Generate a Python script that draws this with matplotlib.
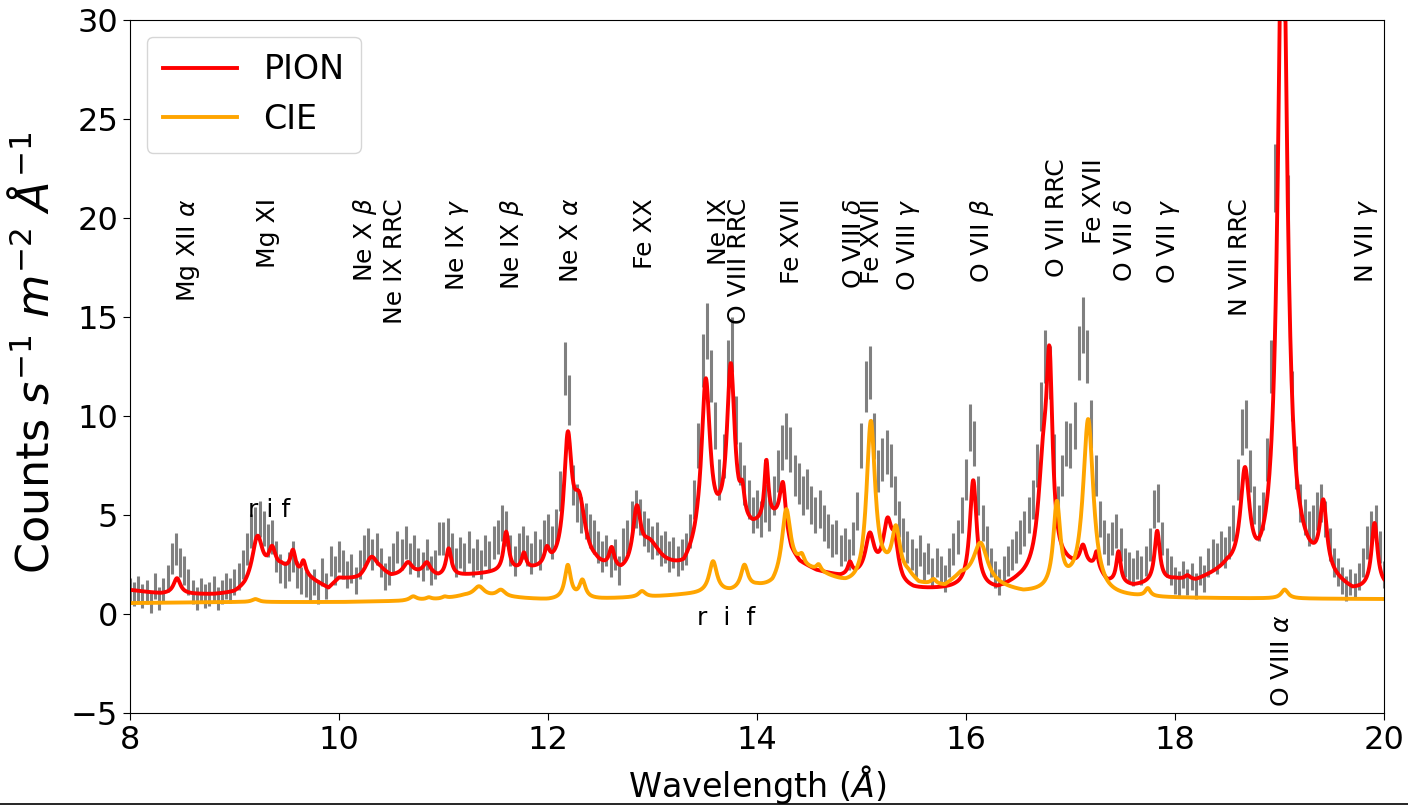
import numpy as np
import matplotlib.pyplot as plt
from matplotlib.lines import Line2D

# observed spectrum, 0.04 A bins from 8 to 20 A (counts s^-1 m^-2 A^-1)
obs_8 = [1.2, 1.0, 1.3, 0.9, 1.1, 0.6, 1.4, 0.8, 1.2, 1.8, 2.8, 3.3, 2.6, 2.2, 1.6, 1.1, 0.8, 1.2, 0.9, 1.0, 1.3, 0.8, 1.1, 1.4, 1.2]
obs_9 = [1.6, 1.9, 2.5, 3.3, 4.2, 4.5, 4.8, 4.3, 3.7, 3.9, 2.9, 2.3, 2.0, 2.4, 2.9, 2.0, 1.7, 1.5, 1.3, 1.6, 1.1, 2.1, 1.4, 2.7, 2.2]
obs_10 = [2.9, 2.5, 2.0, 2.3, 1.7, 2.5, 3.2, 3.5, 3.0, 3.3, 2.6, 1.9, 2.2, 2.8, 3.4, 3.0, 3.6, 2.8, 3.2, 2.6, 2.4, 3.0, 2.2, 2.5, 3.8]
obs_11 = [3.8, 4.0, 3.3, 2.6, 3.1, 2.8, 3.4, 2.6, 3.0, 2.5, 3.2, 2.9, 3.6, 3.9, 4.6, 4.3, 3.2, 2.7, 3.3, 3.6, 3.2, 2.8, 3.4, 3.0, 3.9]
obs_12 = [4.2, 3.6, 4.4, 6.2, 12.4, 10.8, 6.5, 5.6, 5.0, 4.7, 4.2, 3.9, 3.4, 2.9, 3.2, 2.6, 3.0, 2.2, 3.5, 3.9, 4.8, 5.3, 4.9, 4.3, 4.0]
obs_13 = [3.6, 3.8, 3.2, 3.4, 2.9, 3.1, 2.7, 3.0, 3.3, 4.2, 5.8, 8.5, 12.8, 14.3, 12.0, 9.5, 6.8, 8.0, 12.5, 13.6, 9.8, 7.6, 6.5, 5.8, 5.0]
obs_14 = [5.3, 4.8, 5.6, 5.1, 6.0, 7.2, 8.4, 9.0, 8.3, 7.0, 6.6, 6.0, 6.3, 5.5, 5.0, 5.3, 4.6, 4.2, 3.7, 3.9, 3.2, 3.5, 3.0, 3.8, 5.2]
obs_15 = [8.5, 11.5, 12.2, 9.0, 7.2, 7.8, 8.2, 7.5, 6.0, 4.8, 4.0, 3.4, 3.0, 2.6, 3.2, 2.4, 2.8, 2.1, 2.6, 2.2, 1.8, 2.6, 3.3, 3.9, 5.0]
obs_16 = [6.8, 9.4, 8.6, 6.0, 4.6, 3.6, 2.6, 2.0, 1.6, 2.2, 2.7, 3.0, 3.4, 3.9, 4.3, 5.0, 5.8, 7.5, 10.5, 13.0, 12.2, 8.0, 5.5, 7.0, 8.6]
obs_17 = [8.5, 9.5, 13.2, 14.6, 13.0, 9.6, 7.0, 4.8, 3.9, 3.3, 3.8, 4.2, 3.5, 2.6, 2.4, 2.1, 2.5, 2.2, 2.7, 3.5, 5.3, 5.6, 3.8, 2.6, 2.2]
obs_18 = [1.7, 1.5, 2.0, 1.6, 1.9, 1.4, 2.2, 1.8, 2.6, 3.0, 2.8, 3.4, 3.1, 3.6, 4.6, 6.8, 9.2, 9.6, 7.2, 5.5, 4.6, 5.2, 7.8, 12.5, 22.0]
obs_19 = [33.5, 32.0, 20.5, 11.0, 7.4, 5.6, 4.9, 4.3, 4.6, 5.2, 5.6, 4.8, 3.5, 2.6, 2.1, 1.7, 1.3, 1.6, 1.4, 1.9, 2.6, 3.6, 4.3, 4.6, 3.4, 2.0]

# PION model: continuum knots and emission lines (centre, peak, hwhm)
pion_cont_wl = [8.0, 8.3, 8.8, 9.0, 9.1, 9.2, 9.3, 9.45, 9.6, 9.7, 9.9, 10.0, 10.2, 10.4, 10.5, 10.6, 10.85, 10.95,
                11.2, 11.45, 11.85, 12.1, 12.45, 12.7, 13.05, 13.3, 13.43, 13.65, 13.96, 14.1, 14.22, 14.33, 14.41,
                14.57, 14.8, 15.0, 15.2, 15.4, 15.5, 15.9, 16.3, 16.5, 16.65, 16.95, 17.25, 17.35, 17.6, 18.0, 18.2,
                18.5, 18.65, 18.8, 19.2, 19.3, 19.55, 19.7, 20.0]
pion_cont = [1.2, 1.0, 0.95, 1.0, 1.2, 1.6, 1.8, 2.2, 1.9, 1.8, 1.25, 1.75, 1.65, 2.0, 1.8, 1.9, 2.0, 1.8,
             1.9, 2.0, 2.1, 2.15, 2.2, 1.8, 2.3, 2.1, 2.9, 3.8, 4.1, 4.6, 4.7, 3.0, 2.5,
             2.1, 1.8, 1.8, 1.8, 1.25, 1.15, 1.2, 1.1, 1.5, 1.7, 2.2, 2.2, 1.5, 1.3, 1.6, 1.5,
             2.0, 1.6, 1.3, 2.2, 2.0, 1.4, 1.0, 1.2]
pion_lines = [(8.45, 0.8, 0.04), (9.22, 2.2, 0.06), (9.36, 1.1, 0.04), (9.56, 1.1, 0.03), (9.66, 0.7, 0.025),
              (10.31, 1.0, 0.07), (10.66, 0.6, 0.05), (10.84, 0.5, 0.04), (11.05, 1.4, 0.03), (11.60, 2.0, 0.03),
              (11.77, 0.8, 0.025), (11.99, 0.8, 0.03), (12.19, 6.1, 0.045), (12.30, 3.0, 0.07), (12.61, 1.0, 0.03),
              (12.85, 2.85, 0.045), (12.97, 1.1, 0.1), (13.51, 8.3, 0.05), (13.75, 8.3, 0.045), (13.86, 1.3, 0.025),
              (14.09, 2.9, 0.022), (14.25, 2.2, 0.03), (14.89, 0.6, 0.025), (15.08, 2.0, 0.05), (15.25, 2.6, 0.05),
              (15.32, 1.6, 0.04), (16.07, 5.5, 0.04), (16.74, 5.0, 0.06), (16.80, 9.0, 0.035), (17.12, 1.0, 0.035),
              (17.25, 0.7, 0.02), (17.46, 1.6, 0.025), (17.83, 2.6, 0.03), (18.12, 0.2, 0.03), (18.67, 5.1, 0.053),
              (19.03, 36.0, 0.052), (19.42, 3.4, 0.04), (19.91, 3.3, 0.035)]

# CIE model
cie_cont_wl = [8.0, 9.0, 10.0, 10.6, 11.0, 11.2, 11.7, 12.0, 12.5, 13.0, 13.3, 13.75, 14.0, 14.15, 14.4, 14.6,
               14.85, 15.0, 15.22, 15.45, 15.55, 15.8, 15.95, 16.3, 16.55, 16.75, 17.0, 17.35, 17.5, 20.0]
cie_cont = [0.55, 0.6, 0.6, 0.65, 0.75, 0.9, 0.8, 0.7, 0.75, 0.85, 0.95, 1.05, 1.3, 1.3, 2.3, 2.0,
            1.4, 1.2, 1.8, 1.8, 1.4, 1.3, 1.8, 1.3, 1.0, 1.0, 1.1, 0.8, 0.8, 0.75]
cie_lines = [(9.20, 0.15, 0.04), (10.71, 0.2, 0.04), (10.86, 0.1, 0.03), (11.01, 0.1, 0.03), (11.34, 0.5, 0.06),
             (11.55, 0.35, 0.05), (12.19, 1.7, 0.035), (12.33, 0.9, 0.035), (12.90, 0.3, 0.04), (13.58, 1.6, 0.045),
             (13.88, 1.2, 0.04), (14.28, 3.4, 0.05), (14.43, 0.4, 0.025), (14.59, 0.3, 0.025), (15.09, 8.2, 0.05),
             (15.33, 2.3, 0.045), (15.69, 0.25, 0.03), (16.14, 2.0, 0.08), (16.87, 4.3, 0.04), (17.17, 8.8, 0.06),
             (17.74, 0.4, 0.03), (19.05, 0.45, 0.04)]

# line identifications: (label, wavelength, top of text)
line_ids = [("Mg XII $\\alpha$", 8.43, 21), ("Mg XI", 9.21, 21), ("Ne X $\\beta$", 10.12, 21),
            ("Ne IX RRC", 10.42, 21), ("Ne IX $\\gamma$", 11.01, 21), ("Ne IX $\\beta$", 11.52, 21),
            ("Ne X $\\alpha$", 12.11, 21), ("Fe XX", 12.81, 21), ("Ne IX", 13.52, 21),
            ("O VIII RRC", 13.71, 21), ("Fe XVII", 14.22, 21), ("O VIII $\\delta$", 14.81, 21),
            ("Fe XVII", 14.99, 21), ("O VIII $\\gamma$", 15.32, 21), ("O VII $\\beta$", 16.02, 21),
            ("O VII RRC", 16.76, 23), ("Fe XVII", 17.11, 23), ("O VII $\\delta$", 17.41, 21),
            ("O VII $\\gamma$", 17.81, 21), ("N VII RRC", 18.51, 21), ("N VII $\\gamma$", 19.70, 21),
            ("O VIII $\\alpha$", 18.91, 0)]


def model(wl, cont_wl, cont, lines):
    flux = np.interp(wl, cont_wl, cont)
    for c, a, w in lines:
        flux = flux + a / (1 + ((wl - c) / w) ** 2)
    return flux


wave = np.round(np.arange(301) * 0.04 + 8.0, 2)
obs = np.array(obs_8 + obs_9 + obs_10 + obs_11 + obs_12 + obs_13 + obs_14 + obs_15 + obs_16 + obs_17 + obs_18 + obs_19)
err = 0.35 * np.sqrt(obs + 2.0)

grid = np.linspace(8, 20, 3001)
pion = model(grid, pion_cont_wl, pion_cont, pion_lines)
cie = model(grid, cie_cont_wl, cie_cont, cie_lines)

fig = plt.figure(figsize=(14.08, 8.07), dpi=100)
ax = fig.add_axes([0.0923, 0.1165, 0.8906, 0.8587])

ax.errorbar(wave, obs, yerr=err, fmt="none", ecolor="gray", elinewidth=2.2)
ax.plot(grid, pion, color="red", lw=2.8, label="PION")
ax.plot(grid, cie, color="orange", lw=2.8, label="CIE")

for label, wl, top in line_ids:
    ax.text(wl, top, label, rotation=90, ha="left", va="top", fontsize=18)

ax.text(9.13, 4.9, "r i f", fontsize=18)
ax.text(13.43, -0.55, "r  i  f", fontsize=18)

ax.set_xlim(8, 20)
ax.set_ylim(-5, 30)
ax.set_xticks([8, 10, 12, 14, 16, 18, 20])
ax.set_yticks([-5, 0, 5, 10, 15, 20, 25, 30])
ax.tick_params(labelsize=23, length=5)
ax.set_xlabel("Wavelength ($\\AA$)", fontsize=24, labelpad=5)
ax.set_ylabel("Counts $s^{-1}$ $m^{-2}$ $\\AA^{-1}$", fontsize=32)
ax.yaxis.set_label_coords(-0.058, 0.52)
ax.legend(loc="upper left", fontsize=24, handlelength=2.2, borderpad=0.5)

fig.add_artist(Line2D([0, 1], [0.004, 0.004], color="black", lw=1.2))

fig.savefig("out.png", dpi=100)
